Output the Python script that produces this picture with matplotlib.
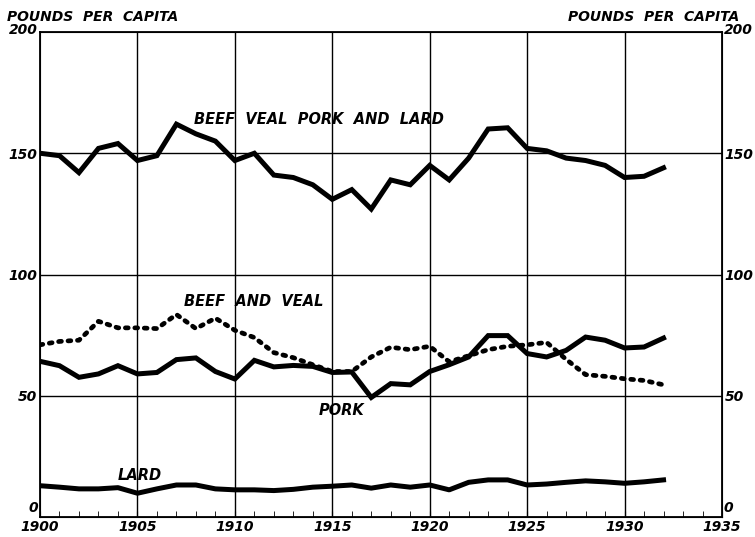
import matplotlib.pyplot as plt
import numpy as np

years = np.arange(1900, 1933)

total = [150, 149, 142, 152, 154, 147, 149, 162, 158, 155, 147, 150, 141, 140, 137, 131,
         135, 127, 139, 137, 145, 139, 148, 160, 160.5, 152, 151, 148, 147, 145, 140, 140.5, 144]
beef_veal = [71, 72.4, 72.9, 80.7, 78, 78, 77.7, 83.5, 77.7, 82, 77, 74, 67.8, 65.7, 62.8, 60,
             60, 66, 70, 69, 70.4, 64, 66.5, 69, 70.4, 71, 72, 65, 58.7, 58, 57, 56.3, 54.5]
pork = [64.2, 62.4, 57.6, 59, 62.4, 59, 59.6, 64.9, 65.6, 60, 56.9, 64.6, 61.9, 62.5, 62.1, 59.6,
        59.8, 49.3, 55, 54.5, 60, 62.8, 66, 74.8, 74.8, 67.4, 66, 68.7, 74.2, 72.9, 69.7, 70.1, 73.8]
lard = [12.9, 12.3, 11.6, 11.6, 12.1, 9.8, 11.6, 13.2, 13.2, 11.6, 11.2, 11.2, 10.9, 11.4, 12.3, 12.7,
        13.2, 11.9, 13.2, 12.3, 13.2, 11.2, 14.3, 15.3, 15.3, 13.2, 13.6, 14.3, 14.9, 14.5, 13.9, 14.5, 15.3]

xticks = [1900, 1905, 1910, 1915, 1920, 1925, 1930, 1935]
yticks = [0, 50, 100, 150, 200]

fnt = dict(family='DejaVu Sans', weight='bold', style='italic', size=10)
lab = dict(family='DejaVu Sans', weight='bold', style='italic', size=10.5)

fig = plt.figure(figsize=(7.55, 5.37), dpi=100)
ax = fig.add_axes([40/755, 20/537, 682/755, 485/537])

ax.plot(years, total, color='black', lw=3.6, solid_joinstyle='miter')
ax.plot(years, pork, color='black', lw=3.6, solid_joinstyle='miter')
ax.plot(years, lard, color='black', lw=3.6)
ax.plot(years, beef_veal, color='black', lw=3.4, linestyle=(0, (0.6, 1.4)), dash_capstyle='round')

ax.set_xlim(1900, 1935)
ax.set_ylim(0, 200)
ax.set_xticks(xticks)
ax.set_xticklabels([str(x) for x in xticks], **fnt)
ax.set_xticks(np.arange(1900, 1936), minor=True)
ax.set_yticks(yticks)
ax.set_yticklabels(['', '50', '100', '150', ''], **fnt)
ax.tick_params(axis='x', which='both', direction='in', length=4, pad=2)
ax.tick_params(axis='y', length=0, pad=2)

for x in xticks[1:-1]:
    ax.axvline(x, color='black', lw=1.0)
for y in [50, 100, 150]:
    ax.axhline(y, color='black', lw=1.0)
for s in ax.spines.values():
    s.set_linewidth(1.3)

ax2 = ax.twinx()
ax2.set_ylim(0, 200)
ax2.set_yticks(yticks)
ax2.set_yticklabels(['', '50', '100', '150', ''], **fnt)
ax2.tick_params(axis='y', length=0, pad=2)

ax.text(1899.9, 201, '200', ha='right', va='center', **fnt)
ax.text(1899.9, 1, '0', ha='right', va='bottom', **fnt)
ax.text(1935.1, 201, '200', ha='left', va='center', **fnt)
ax.text(1935.1, 1, '0', ha='left', va='bottom', **fnt)
ax.text(1898.3, 203.5, 'POUNDS  PER  CAPITA', ha='left', va='bottom', **fnt)
ax.text(1935.9, 203.5, 'POUNDS  PER  CAPITA', ha='right', va='bottom', **fnt)

ax.text(1907.9, 164, 'BEEF  VEAL  PORK  AND  LARD', ha='left', va='center', **lab)
ax.text(1907.4, 89, 'BEEF  AND  VEAL', ha='left', va='center', **lab)
ax.text(1914.3, 44, 'PORK', ha='left', va='center', **lab)
ax.text(1904, 17, 'LARD', ha='left', va='center', **lab)

fig.savefig('out.png', dpi=100)
